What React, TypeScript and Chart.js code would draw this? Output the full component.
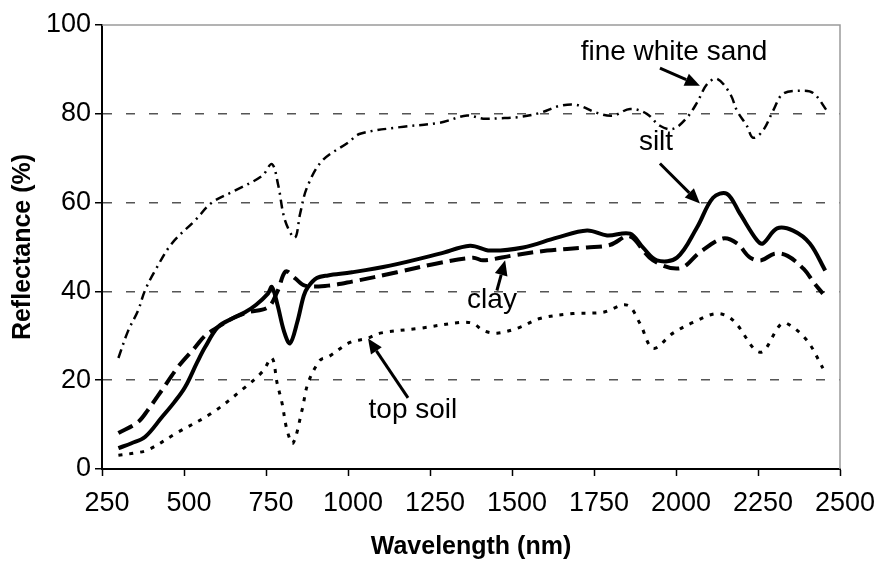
import React, { useEffect, useRef } from "react";
import { Chart, registerables } from "chart.js";

Chart.register(...registerables);

// ---- data (wavelength nm, reflectance %) ----
const siltWl = [300, 340, 381, 433, 470, 503, 540, 564, 604, 650, 686, 720, 756, 768, 785, 805, 823, 845, 865, 878, 905, 939, 1012, 1128, 1280, 1372, 1433, 1534, 1637, 1729, 1790, 1860, 1899, 1942, 2003, 2064, 2113, 2155, 2195, 2247, 2265, 2308, 2357, 2408, 2455];
const siltR = [4.7, 5.8, 7.2, 11.7, 15, 18.4, 24, 27.4, 32, 34, 35.3, 37, 39.5, 41, 37, 31, 28.3, 33, 39, 41, 43, 43.6, 44.3, 45.8, 48.5, 50.3, 49.2, 49.9, 52.1, 53.7, 52.6, 53, 49.9, 47, 47.6, 54.4, 61.1, 62, 57.5, 51.5, 50.8, 54.2, 53.7, 50.8, 44.7];

const clayWl = [300, 360, 390, 433, 482, 534, 564, 604, 650, 695, 756, 785, 810, 838, 869, 939, 1012, 1149, 1271, 1381, 1412, 1503, 1607, 1729, 1800, 1850, 1869, 1930, 2012, 2073, 2143, 2186, 2226, 2260, 2300, 2340, 2390, 2420, 2448];
const clayR = [8.1, 10.6, 13.3, 17.8, 23, 27.4, 30, 32, 34, 35.3, 36.4, 40, 44.5, 43, 41.3, 41.3, 42.2, 44.3, 46.3, 47.6, 47, 48.1, 49.2, 49.9, 50.5, 52.5, 52, 47, 45.2, 48.8, 51.9, 50.8, 47.6, 47, 48.5, 48, 45, 42, 39.5];

const soilWl = [300, 350, 390, 482, 585, 686, 740, 768, 784, 799, 814, 832, 860, 878, 915, 939, 1006, 1058, 1098, 1220, 1341, 1381, 1412, 1454, 1524, 1585, 1686, 1777, 1851, 1890, 1930, 1991, 2052, 2125, 2174, 2256, 2317, 2338, 2399, 2448];
const soilR = [3.1, 3.6, 4.3, 8.3, 12.6, 18.4, 22, 25, 19.3, 14.8, 8.8, 5.8, 13.3, 19.3, 24.5, 25.2, 28.5, 29.4, 30.6, 31.7, 33, 32.8, 31.2, 30.6, 31.9, 33.9, 35, 35.3, 36.9, 32.8, 27.2, 30.6, 33, 35, 33.5, 26.3, 32.4, 32.8, 29, 22.7];

const sandWl = [300, 329, 360, 381, 412, 463, 534, 585, 655, 738, 768, 787, 808, 838, 854, 875, 921, 1000, 1037, 1159, 1280, 1363, 1412, 1463, 1524, 1585, 1646, 1698, 1759, 1808, 1860, 1911, 1951, 1991, 2033, 2064, 2095, 2125, 2165, 2186, 2216, 2235, 2265, 2296, 2326, 2378, 2418, 2460];
const sandR = [25, 31, 35.7, 40.2, 44.7, 50.8, 56, 60, 62.7, 66, 68.7, 64, 56, 52.1, 57.5, 63.4, 69.4, 73.5, 75.5, 77, 78, 79.6, 78.9, 79, 79.3, 80.2, 81.8, 82, 80.2, 79.6, 81.1, 80, 77.3, 76.6, 79.1, 82.5, 86.7, 87.9, 84.5, 80.7, 77.3, 74.6, 76.2, 80.7, 84.5, 85.2, 84.7, 80.7];

const xTicks = [250, 500, 750, 1000, 1250, 1500, 1750, 2000, 2250, 2500];
const yTicks = [0, 20, 40, 60, 80, 100];

// ---- annotations (data coordinates; label y = text baseline) ----
const labelText = ["fine white sand", "silt", "clay", "top soil"];
const labelWl = [1994, 1939, 1439, 1198];
const labelR = [92.1, 71.9, 36.2, 11.5];
const arrowTailWl = [1951, 1951, 1454, 1183];
const arrowTailR = [90.3, 68.8, 40.2, 16];
const arrowHeadWl = [2073, 2073, 1479, 1061];
const arrowHeadR = [86.3, 59.8, 47, 29.4];

const FONT = "'Liberation Sans', Arial, Helvetica, sans-serif";

const toPts = (xs: number[], ys: number[]) => xs.map((x, i) => ({ x, y: ys[i] }));

const framePlugin = {
  id: "frame",
  beforeDatasetsDraw(chart: any) {
    const { ctx, chartArea } = chart;
    ctx.save();
    ctx.strokeStyle = "#9a9a9a";
    ctx.lineWidth = 1.5;
    ctx.beginPath();
    ctx.moveTo(chartArea.left, chartArea.top);
    ctx.lineTo(chartArea.right, chartArea.top);
    ctx.lineTo(chartArea.right, chartArea.bottom);
    ctx.stroke();
    ctx.restore();
  },
};

const annotationPlugin = {
  id: "notes",
  afterDatasetsDraw(chart: any) {
    const { ctx, scales } = chart;
    const xs = scales.x;
    const ys = scales.y;
    ctx.save();
    ctx.fillStyle = "#000";
    ctx.strokeStyle = "#000";
    ctx.font = `28px ${FONT}`;
    ctx.textAlign = "center";
    ctx.textBaseline = "alphabetic";
    labelText.forEach((t, i) => {
      ctx.fillText(t, xs.getPixelForValue(labelWl[i]), ys.getPixelForValue(labelR[i]));
    });
    ctx.lineWidth = 3;
    arrowTailWl.forEach((_, i) => {
      const x1 = xs.getPixelForValue(arrowTailWl[i]);
      const y1 = ys.getPixelForValue(arrowTailR[i]);
      const x2 = xs.getPixelForValue(arrowHeadWl[i]);
      const y2 = ys.getPixelForValue(arrowHeadR[i]);
      const ang = Math.atan2(y2 - y1, x2 - x1);
      const L = 15;
      const W = 6.5;
      const bx = x2 - L * Math.cos(ang);
      const by = y2 - L * Math.sin(ang);
      ctx.beginPath();
      ctx.moveTo(x1, y1);
      ctx.lineTo(bx, by);
      ctx.stroke();
      ctx.beginPath();
      ctx.moveTo(x2, y2);
      ctx.lineTo(bx + W * Math.sin(ang), by - W * Math.cos(ang));
      ctx.lineTo(bx - W * Math.sin(ang), by + W * Math.cos(ang));
      ctx.closePath();
      ctx.fill();
    });
    ctx.restore();
  },
};

export default function App() {
  const ref = useRef<HTMLCanvasElement | null>(null);

  useEffect(() => {
    if (!ref.current) return;
    const common = { pointRadius: 0, borderColor: "#000", fill: false, tension: 0.35 };
    const chart = new Chart(ref.current, {
      type: "line",
      data: {
        datasets: [
          { ...common, label: "fine white sand", data: toPts(sandWl, sandR), borderWidth: 2.5, borderDash: [9, 5, 2, 5] },
          { ...common, label: "clay", data: toPts(clayWl, clayR), borderWidth: 4, borderDash: [16, 7] },
          { ...common, label: "silt", data: toPts(siltWl, siltR), borderWidth: 4 },
          { ...common, label: "top soil", data: toPts(soilWl, soilR), borderWidth: 3, borderDash: [4, 7] },
        ],
      },
      options: {
        responsive: false,
        animation: false,
        layout: { padding: { left: 0, top: 25, right: 42, bottom: 0 } },
        plugins: { legend: { display: false }, tooltip: { enabled: false } },
        scales: {
          x: {
            type: "linear",
            min: 250,
            max: 2500,
            afterBuildTicks: (s: any) => {
              s.ticks = xTicks.map((v) => ({ value: v }));
            },
            afterFit: (s: any) => {
              s.height = 93;
            },
            grid: { drawOnChartArea: false, drawTicks: true, tickLength: 7, tickColor: "#000", tickWidth: 1.5 },
            border: { display: true, color: "#000", width: 2 },
            ticks: {
              color: "#000",
              font: { family: FONT, size: 27 },
              padding: 11,
              labelOffset: 5,
              maxRotation: 0,
              autoSkip: false,
              callback: (v: any) => String(v),
            },
            title: { display: true, text: "Wavelength (nm)", color: "#000", font: { family: FONT, size: 25, weight: "bold" }, padding: { top: 0, bottom: 0 } },
          },
          y: {
            type: "linear",
            min: 0,
            max: 100,
            afterBuildTicks: (s: any) => {
              s.ticks = yTicks.map((v) => ({ value: v }));
            },
            afterFit: (s: any) => {
              s.width = 102;
            },
            grid: {
              color: (c: any) => (c.tick && (c.tick.value === 0 || c.tick.value === 100) ? "rgba(0,0,0,0)" : "#555"),
              lineWidth: 1.5,
              drawTicks: true,
              tickLength: 7,
              tickColor: "#000",
              tickWidth: 1.5,
            },
            border: { display: true, color: "#000", width: 2, dash: [9, 14] },
            ticks: { color: "#000", font: { family: FONT, size: 27 }, padding: 4, autoSkip: false, callback: (v: any) => String(v) },
            title: { display: true, text: "Reflectance (%)", color: "#000", font: { family: FONT, size: 25, weight: "bold" }, padding: { top: 8, bottom: 2 } },
          },
        },
      },
      plugins: [framePlugin, annotationPlugin],
    });
    return () => chart.destroy();
  }, []);

  return (
    <div style={{ position: "fixed", left: 0, top: 0, width: 882, height: 562, background: "#fff" }}>
      <canvas ref={ref} width={882} height={562} style={{ display: "block" }} />
    </div>
  );
}
